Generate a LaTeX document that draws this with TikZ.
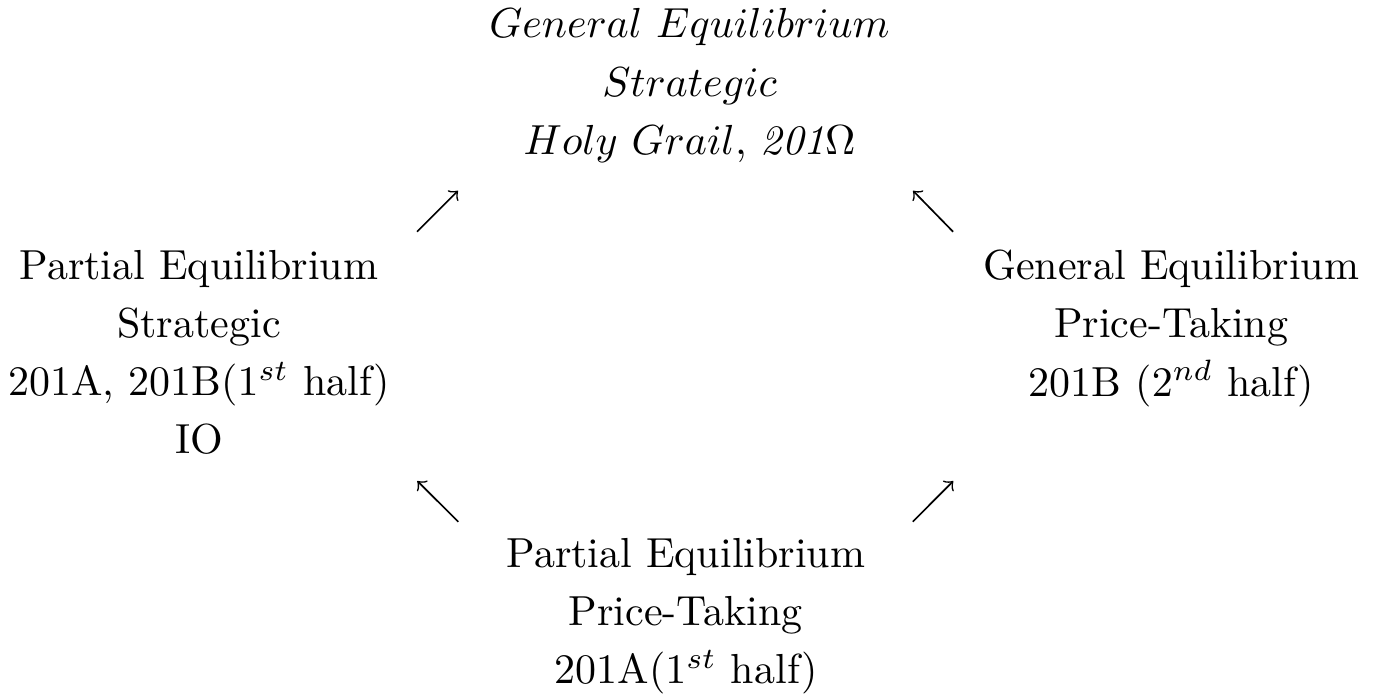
\documentclass[tikz,border=0pt]{standalone}
\usepackage{tikz}

\begin{document}
\begin{tikzpicture}[x=1cm,y=1cm,
  blk/.style={align=center,anchor=north,inner sep=0pt,font=\fontsize{10}{13.85}\selectfont},
  upar/.style={-to,line width=0.4pt}]
\path[use as bounding box] (0,0) rectangle (11.506,5.841);
\node[blk] (geStrat) at (5.77,5.775) {$General\ Equilibrium$\\ $Strategic$\\ $Holy\ Grail$, $\textit{201}\Omega$};
\node[blk] (peStrat) at (1.665,3.755) {Partial Equilibrium\\ Strategic\\ 201A, 201B($1^{st}$ half)\\ IO};
\node[blk] (gePrice) at (9.80,3.755) {General Equilibrium\\ Price-Taking\\ 201B ($2^{nd}$ half)};
\node[blk] (pePrice) at (5.74,1.344) {Partial Equilibrium\\ Price-Taking\\ 201A($1^{st}$ half)};
% arrow ends
\coordinate (a1s) at (3.490,3.902);
\coordinate (a1e) at (3.833,4.245);
\coordinate (a2s) at (7.975,3.902);
\coordinate (a2e) at (7.640,4.245);
\coordinate (a3s) at (3.835,1.475);
\coordinate (a3e) at (3.492,1.816);
\coordinate (a4s) at (7.638,1.475);
\coordinate (a4e) at (7.977,1.816);
\draw[upar] (a1s) -- (a1e);
\draw[upar] (a2s) -- (a2e);
\draw[upar] (a3s) -- (a3e);
\draw[upar] (a4s) -- (a4e);
\end{tikzpicture}
\end{document}
